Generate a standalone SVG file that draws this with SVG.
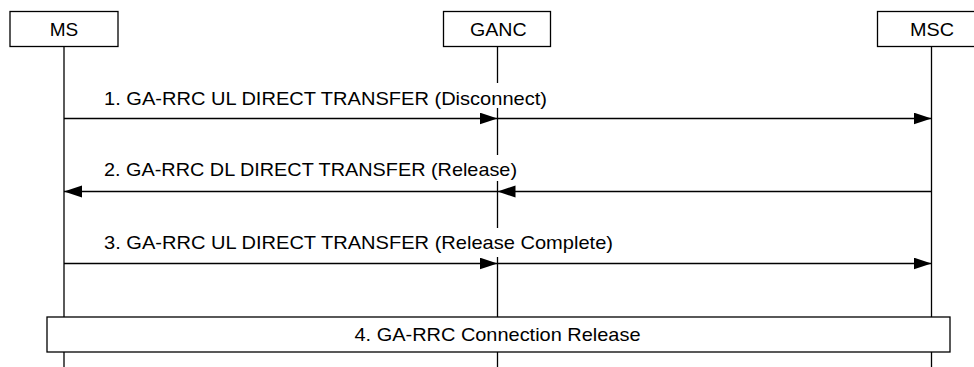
<svg xmlns="http://www.w3.org/2000/svg" width="974" height="367" viewBox="0 0 974 367">
<defs>
<style>
.box{fill:#fff;stroke:#000;stroke-width:1.3}
.life{stroke:#000;stroke-width:1.3;fill:none}
.msg{stroke:#000;stroke-width:1.3;fill:none;marker-end:url(#ah)}
.t{font-family:"Liberation Sans",Arial,sans-serif;font-size:19px;fill:#000}
.bg{fill:#fff}
</style>
<marker id="ah" markerUnits="userSpaceOnUse" markerWidth="20" markerHeight="14" refX="18" refY="6" orient="auto">
<path d="M0,0 L18,6 L0,12 Z" fill="#000"/>
</marker>
</defs>
<rect width="974" height="367" fill="#fff"/>
<g id="lifelines">
<line class="life" x1="64" y1="46.5" x2="64" y2="367"/>
<line class="life" x1="497.5" y1="46.5" x2="497.5" y2="367"/>
<line class="life" x1="931.5" y1="46.5" x2="931.5" y2="367"/>
</g>
<g id="MS">
<rect class="box" x="10" y="11.5" width="108" height="35"/>
<text class="t" x="64" y="36" text-anchor="middle" textLength="28.5" lengthAdjust="spacingAndGlyphs">MS</text>
</g>
<g id="GANC">
<rect class="box" x="443.5" y="11.5" width="107" height="35"/>
<text class="t" x="498.3" y="36" text-anchor="middle" textLength="56.7" lengthAdjust="spacingAndGlyphs">GANC</text>
</g>
<g id="MSC">
<rect class="box" x="877.5" y="11.5" width="108" height="35"/>
<text class="t" x="932" y="36" text-anchor="middle" textLength="44" lengthAdjust="spacingAndGlyphs">MSC</text>
</g>
<g id="labels">
<rect class="bg" x="102" y="83" width="448" height="25"/>
<text class="t" x="104" y="105" textLength="443" lengthAdjust="spacingAndGlyphs">1. GA-RRC UL DIRECT TRANSFER (Disconnect)</text>
<rect class="bg" x="102" y="155" width="418" height="26"/>
<text class="t" x="104" y="175.5" textLength="413" lengthAdjust="spacingAndGlyphs">2. GA-RRC DL DIRECT TRANSFER (Release)</text>
<rect class="bg" x="102" y="228" width="514" height="29"/>
<text class="t" x="104" y="248.5" textLength="509" lengthAdjust="spacingAndGlyphs">3. GA-RRC UL DIRECT TRANSFER (Release Complete)</text>
</g>
<g id="connectors">
<line class="msg" x1="64" y1="118.5" x2="497.5" y2="118.5"/>
<line class="msg" x1="497.5" y1="118.5" x2="931.5" y2="118.5"/>
<line class="msg" x1="931.5" y1="191.5" x2="497.5" y2="191.5"/>
<line class="msg" x1="497.5" y1="191.5" x2="64" y2="191.5"/>
<line class="msg" x1="64" y1="263.5" x2="497.5" y2="263.5"/>
<line class="msg" x1="497.5" y1="263.5" x2="931.5" y2="263.5"/>
</g>
<g id="release">
<rect class="box" x="47" y="317" width="903" height="35"/>
<text class="t" x="497.5" y="341" text-anchor="middle" textLength="286" lengthAdjust="spacingAndGlyphs">4. GA-RRC Connection Release</text>
</g>
</svg>
